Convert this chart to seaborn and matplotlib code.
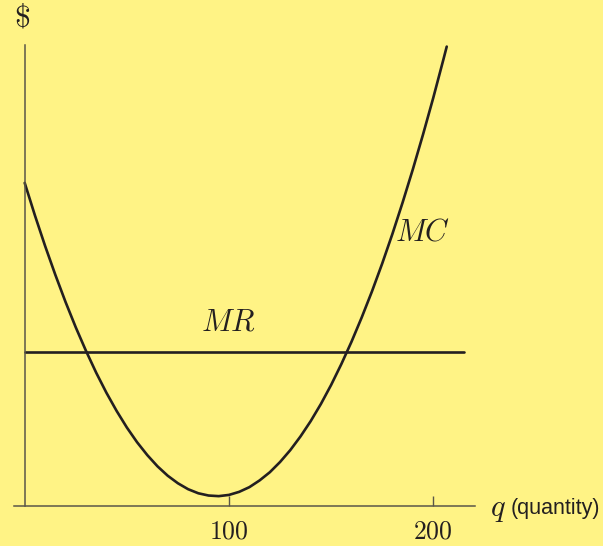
import numpy as np
import pandas as pd
import seaborn as sns
import matplotlib.pyplot as plt

# 数据：边际成本曲线 (MC) 和边际收益 (MR)
q_values = [0, 5, 10, 15, 20, 25, 30, 35, 40, 45, 50, 55, 60, 65, 70, 75, 80,
            85, 90, 95, 100, 105, 110, 115, 120, 125, 130, 135, 140, 145, 150,
            155, 160, 165, 170, 175, 180, 185, 190, 195, 200, 205, 206.6]
mc_values = [158.0, 142.1, 127.1, 113.0, 99.7, 87.3, 75.8, 65.1, 55.3, 46.4,
             38.3, 31.1, 24.8, 19.3, 14.7, 11.0, 8.1, 6.1, 5.0, 4.7, 5.3, 6.8,
             9.1, 12.4, 16.4, 21.4, 27.2, 33.9, 41.4, 49.8, 59.1, 69.3, 80.3,
             92.2, 104.9, 118.5, 133.0, 148.4, 164.6, 181.7, 199.6, 218.5, 224.7]
mr_q = [0, 215]
mr_values = [75, 75]
x_ticks = [100, 200]
x_tick_labels = ['$100$', '$200$']

mc_df = pd.DataFrame({'q': q_values, 'cost': mc_values})
mr_df = pd.DataFrame({'q': mr_q, 'cost': mr_values})

bg = '#FFF385'
ink = '#231F20'

sns.set_theme(style='white', rc={'axes.facecolor': bg, 'figure.facecolor': bg})
plt.rcParams['mathtext.fontset'] = 'cm'
plt.rcParams['font.family'] = ['Liberation Sans', 'DejaVu Sans']

fig = plt.figure(figsize=(6.03, 5.46), dpi=100)
ax = fig.add_axes([0, 0, 1, 1])

# 画曲线
sns.lineplot(data=mc_df, x='q', y='cost', ax=ax, color=ink, lw=1.9, sort=False)
sns.lineplot(data=mr_df, x='q', y='cost', ax=ax, color=ink, lw=1.9)

# 坐标范围：让像素和数据一一对应
ax.set_xlim(-12.09, 283.1)
ax.set_ylim(-19.7, 247.5)

# 坐标轴
for s in ['top', 'right']:
    ax.spines[s].set_visible(False)
ax.spines['left'].set_position(('data', 0))
ax.spines['bottom'].set_position(('data', 0))
ax.spines['left'].set_bounds(0, 225.5)
ax.spines['bottom'].set_bounds(-5.2, 220.4)
for s in ['left', 'bottom']:
    ax.spines[s].set_color('#5a5648')
    ax.spines[s].set_linewidth(1.1)

ax.set_yticks([])
ax.set_xticks(x_ticks)
ax.set_xticklabels(x_tick_labels, fontsize=18.5)
ax.tick_params(axis='x', bottom=True, direction='in', length=7.5, width=1.0,
               color='#5a5648', pad=10, labelcolor=ink)
ax.set_xlabel('')
ax.set_ylabel('')

# 文字标签
ax.text(-1.3, 238.5, r'$\$$', fontsize=23, color=ink, ha='center', va='center')
ax.text(99.5, 89.7, r'$MR$', fontsize=22, color=ink, ha='center', va='center')
ax.text(194.5, 133.8, r'$MC$', fontsize=22, color=ink, ha='center', va='center')
ax.text(227.8, -1.5, r'$q$', fontsize=22, color=ink, ha='left', va='center')
ax.text(237.8, -1.5, '(quantity)', fontsize=15.5, color=ink, ha='left', va='center')

plt.savefig('out.png', dpi=100, facecolor=bg)
